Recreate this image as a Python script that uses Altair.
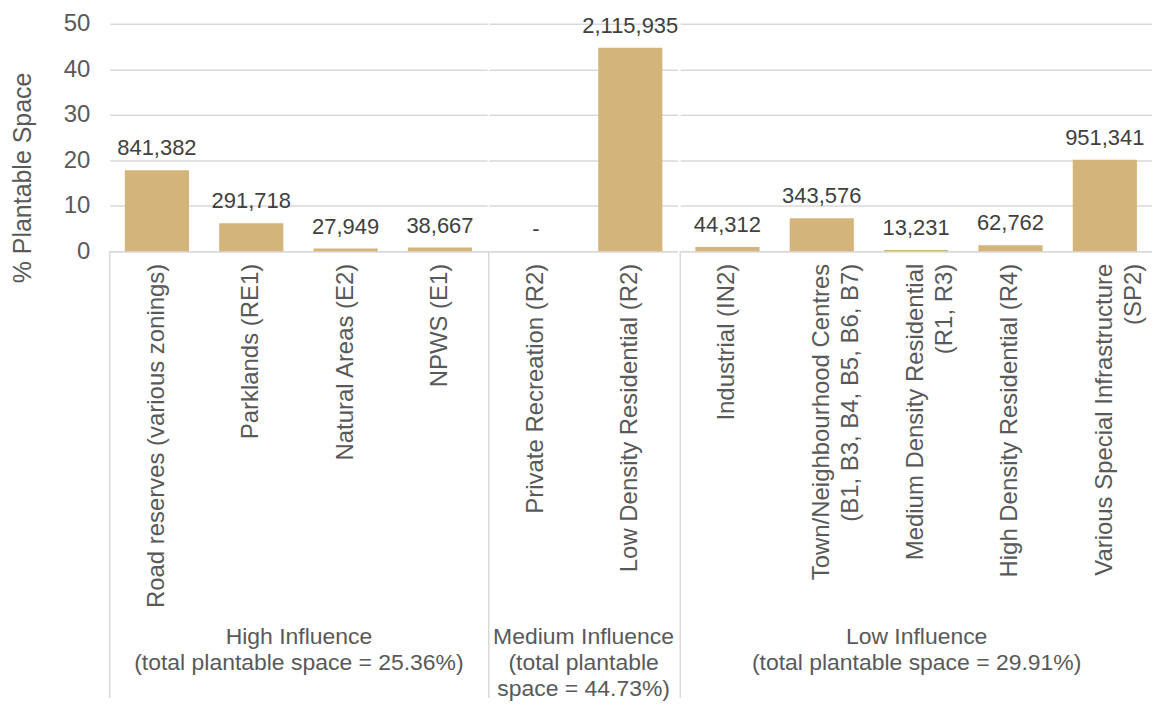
import altair as alt
import pandas as pd

# ---- data ----
categories = [
    "Road reserves (various zonings)",
    "Parklands (RE1)",
    "Natural Areas (E2)",
    "NPWS (E1)",
    "Private Recreation (R2)",
    "Low Density Residential (R2)",
    "Industrial (IN2)",
    "Town/Neighbourhood Centres|(B1, B3, B4, B5, B6, B7)",
    "Medium Density Residential|(R1, R3)",
    "High Density Residential (R4)",
    "Various Special Infrastructure|(SP2)",
]
groups = ["High"] * 4 + ["Medium"] * 2 + ["Low"] * 5
pct_plantable = [17.79, 6.17, 0.59, 0.82, 0.0, 44.73, 0.94, 7.26, 0.28, 1.33, 20.11]
area_labels = ["841,382", "291,718", "27,949", "38,667", "-", "2,115,935",
               "44,312", "343,576", "13,231", "62,762", "951,341"]
group_order = ["High", "Medium", "Low"]
group_titles = {
    "High": ["High Influence", "(total plantable space = 25.36%)"],
    "Medium": ["Medium Influence", "(total plantable", "space = 44.73%)"],
    "Low": ["Low Influence", "(total plantable space = 29.91%)"],
}
y_ticks = [0, 10, 20, 30, 40, 50]

df = pd.DataFrame({"cat": categories, "group": groups,
                   "pct": pct_plantable, "lab": area_labels})

FONT = "Liberation Sans"
GREY = "#595959"
GRID = "#D9D9D9"
BAR = "#D3B57B"
STEP = 94.6
H = 228


def panel(g, first):
    d = df[df.group == g]
    order = list(d.cat)
    w = len(d) * STEP
    xscale = alt.Scale(paddingInner=0.32, paddingOuter=0.16)
    xaxis = alt.Axis(
        title=group_titles[g], labelAngle=270,
        labelExpr="split(datum.label, '|')",
        labelFont=FONT, labelFontSize=24, labelColor=GREY, labelLimit=500,
        labelLineHeight=29, labelPadding=12, ticks=False, tickSize=0,
        domainColor=GRID, domainWidth=1.5,
        titleFont=FONT, titleFontSize=23, titleFontWeight="normal",
        titleColor=GREY, titleLineHeight=26, titleBaseline="top", titleY=375,
    )
    if first:
        yaxis = alt.Axis(
            values=y_ticks, title="% Plantable Space", domain=False,
            ticks=False, tickSize=0, grid=True, gridColor=GRID, gridWidth=1.5,
            labelFont=FONT, labelFontSize=24, labelColor=GREY, labelPadding=20,
            titleFont=FONT, titleFontSize=25, titleFontWeight="normal",
            titleColor=GREY, titlePadding=28, titleY=154,
        )
    else:
        yaxis = alt.Axis(values=y_ticks, title=None, labels=False, domain=False,
                         ticks=False, tickSize=0, grid=True, gridColor=GRID,
                         gridWidth=1.5)
    yscale = alt.Scale(domain=[0, 50])
    base = alt.Chart(d)
    bars = base.mark_bar(color=BAR).encode(
        x=alt.X("cat:N", sort=order, scale=xscale, axis=xaxis),
        y=alt.Y("pct:Q", scale=yscale, axis=yaxis),
    )
    text = base.mark_text(baseline="bottom", dy=-10, font=FONT, fontSize=22,
                          color="#404040").encode(
        x=alt.X("cat:N", sort=order, scale=xscale),
        y=alt.Y("pct:Q", scale=yscale),
        text="lab:N",
    )
    sep = alt.Chart(pd.DataFrame({"k": [0]})).mark_rule(
        color=GRID, strokeWidth=1.5).encode(
        x=alt.value(0), y=alt.value(H), y2=alt.value(H + 448))
    return alt.layer(bars, text, sep).properties(width=w, height=H)


chart = alt.hconcat(
    *[panel(g, i == 0) for i, g in enumerate(group_order)], spacing=0
).resolve_scale(x="independent", y="independent").properties(
    padding={"left": 2, "top": 3, "right": 0, "bottom": 0}
).configure_view(stroke=None)

chart.save("out.html", embed_options={"renderer": "svg", "actions": False})
